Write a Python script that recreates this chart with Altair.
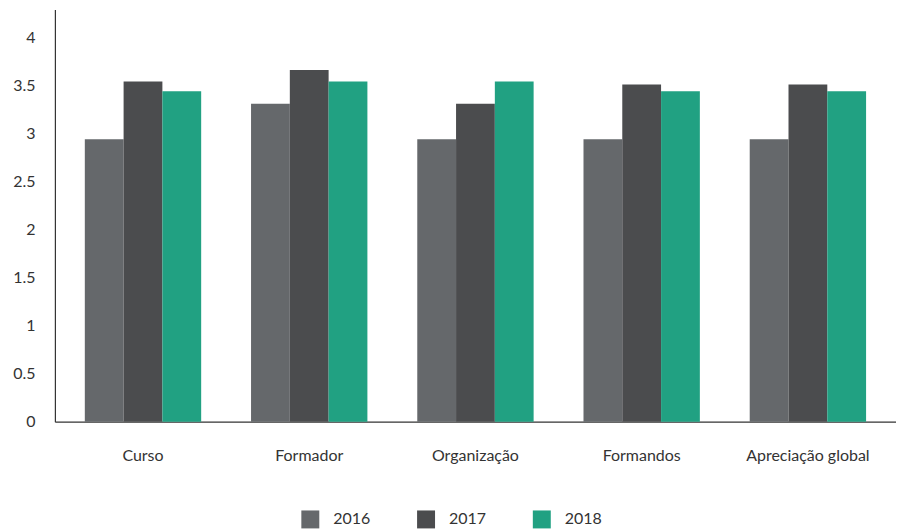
import altair as alt
import pandas as pd

categories = ["Curso", "Formador", "Organização", "Formandos", "Apreciação global"]
years = ["2016", "2017", "2018"]
v2016 = [2.94, 3.31, 2.94, 2.94, 2.94]
v2017 = [3.54, 3.66, 3.31, 3.51, 3.51]
v2018 = [3.44, 3.54, 3.54, 3.44, 3.44]
colors = ["#65686b", "#4b4c4e", "#21a182"]

rows = []
for i, c in enumerate(categories):
    for y, vals in zip(years, [v2016, v2017, v2018]):
        rows.append({"cat": c, "year": y, "value": vals[i]})
df = pd.DataFrame(rows)

font = "Lato"

chart = alt.Chart(df).mark_bar().encode(
    x=alt.X("cat:N", sort=categories, title=None,
            scale=alt.Scale(paddingInner=0.3, paddingOuter=0.18),
            axis=alt.Axis(labelAngle=0, ticks=False, labelPadding=26, labelFontSize=16,
                          labelColor="#333333", labelFont=font, domainColor="#333333",
                          domainWidth=1.2)),
    xOffset=alt.XOffset("year:N", sort=years),
    y=alt.Y("value:Q", title=None,
            scale=alt.Scale(domain=[0, 4.29], nice=False),
            axis=alt.Axis(values=[0, 0.5, 1, 1.5, 2, 2.5, 3, 3.5, 4], ticks=False, grid=False,
                          labelPadding=20, labelFontSize=16, labelColor="#333333",
                          labelFont=font, domainColor="#333333", domainWidth=1.2,
                          labelExpr="datum.value")),
    color=alt.Color("year:N", sort=years, scale=alt.Scale(domain=years, range=colors),
                    legend=alt.Legend(orient="none", legendX=247, legendY=502,
                                      direction="horizontal", title=None,
                                      symbolType="square", symbolSize=324, symbolStrokeWidth=0,
                                      labelFontSize=16, labelFont=font, labelColor="#333333",
                                      columnPadding=46, labelOffset=14)),
).properties(
    width=843, height=413, padding={"left": 4, "top": 1, "right": 0, "bottom": 0}
).configure_view(stroke=None)

chart.save("out.html", embed_options={"renderer": "svg", "actions": False})
